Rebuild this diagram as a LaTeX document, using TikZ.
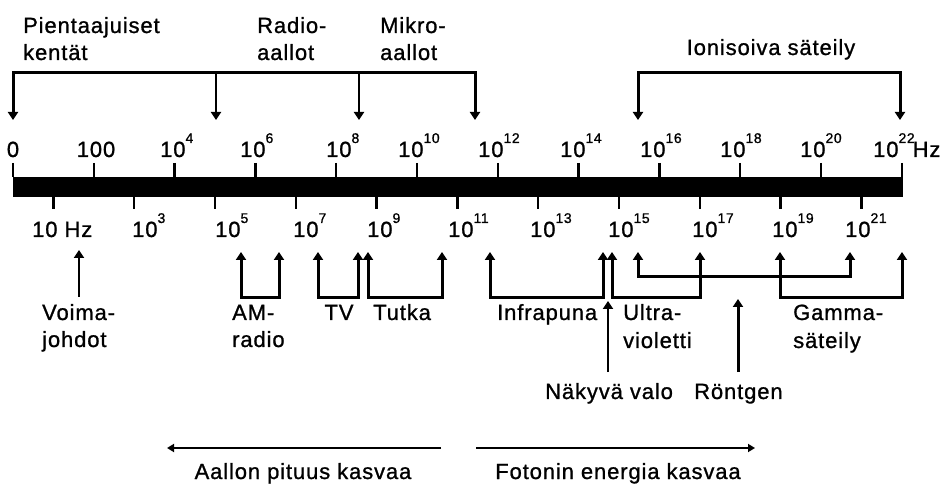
\documentclass[tikz,border=0pt]{standalone}
\usepackage{fontspec}
\setmainfont{Liberation Sans}[LetterSpace=4,FakeBold=1]
\usetikzlibrary{arrows.meta}

% power of ten with a raised exponent
\newcommand\tenp[1]{10\raisebox{14pt}{\fontsize{14}{14}\selectfont #1}}

\begin{document}
\begin{tikzpicture}[x=1pt,y=-1pt,
  font=\fontsize{22}{27}\selectfont,
  lbl/.style={anchor=base west,inner sep=0pt},
  clbl/.style={anchor=base,inner sep=0pt},
  tickline/.style={line width=2.5pt},
  tip/.tip={Triangle[width=10pt,length=8pt]},
  brk/.style={line width=3pt,miter limit=10,tip-tip},
  arr/.style={line width=2.5pt,-tip},
  dirarr/.style={line width=2.5pt,-{Triangle[width=8pt,length=7pt]}}]

\useasboundingbox (0,0) rectangle (948,486);

% frequency bar
\fill (13,177) rectangle (903,197);

% ticks above (even exponents) and below (odd exponents)
\foreach \k in {0,...,11}{
  \draw[tickline] ({13+80.8*\k},163) -- ({13+80.8*\k},177);
}
\foreach \k in {0,...,10}{
  \draw[tickline] ({53.4+80.8*\k},197) -- ({53.4+80.8*\k},209);
}

% upper scale labels
\node[clbl] (u0)  at (13,157)  {0};
\node[clbl] (u2)  at (96,157)  {100};
\node[lbl]  (u4)  at (160,157) {\tenp{4}};
\node[lbl]  (u6)  at (240,157) {\tenp{6}};
\node[lbl]  (u8)  at (326,157) {\tenp{8}};
\node[lbl]  (u10) at (398,157) {\tenp{10}};
\node[lbl]  (u12) at (478,157) {\tenp{12}};
\node[lbl]  (u14) at (560,157) {\tenp{14}};
\node[lbl]  (u16) at (640,157) {\tenp{16}};
\node[lbl]  (u18) at (720,157) {\tenp{18}};
\node[lbl]  (u20) at (800,157) {\tenp{20}};
\node[lbl]  (u22) at (873,157) {\tenp{22}\kern-2pt Hz};

% lower scale labels
\node[lbl] (l1)  at (32,237)  {10 Hz};
\node[lbl] (l3)  at (132,237) {\tenp{3}};
\node[lbl] (l5)  at (215,237) {\tenp{5}};
\node[lbl] (l7)  at (293,237) {\tenp{7}};
\node[lbl] (l9)  at (367,237) {\tenp{9}};
\node[lbl] (l11) at (448,237) {\tenp{11}};
\node[lbl] (l13) at (530,237) {\tenp{13}};
\node[lbl] (l15) at (608,237) {\tenp{15}};
\node[lbl] (l17) at (692,237) {\tenp{17}};
\node[lbl] (l19) at (772,237) {\tenp{19}};
\node[lbl] (l21) at (845,237) {\tenp{21}};

% upper groups
\node[lbl] (pk1) at (23,33)  {Pientaajuiset};
\node[lbl] (pk2) at (23,60)  {kentät};
\node[lbl] (ra1) at (257,33) {Radio-};
\node[lbl] (ra2) at (257,60) {aallot};
\node[lbl] (ma1) at (380,33) {Mikro-};
\node[lbl] (ma2) at (380,60) {aallot};
\node[clbl] (ion) at (771,55) {Ionisoiva säteily};

\coordinate (a0) at (13,120);
\coordinate (a1) at (216,120);
\coordinate (a2) at (359,120);
\coordinate (a3) at (475,120);
\draw[brk] (a0) |- (475,73) -- (a3);
\draw[arr] (216,73) -- (a1);
\draw[arr] (359,73) -- (a2);

\coordinate (i0) at (638,120);
\coordinate (i1) at (900,120);
\draw[brk] (i0) |- (900,73) -- (i1);

% lower groups
\coordinate (vj) at (79,250);
\draw[arr] (79,297) -- (vj);
\node[lbl] (vo1) at (42,320) {Voima-};
\node[lbl] (vo2) at (42,347) {johdot};

\draw[brk] (241,252) |- (279,298) -- (279,252);
\node[lbl] (am1) at (232,320) {AM-};
\node[lbl] (am2) at (232,347) {radio};

\draw[brk] (318,252) |- (358,298) -- (358,252);
\node[clbl] (tv) at (339,320) {TV};

\draw[brk] (368,252) |- (442,298) -- (442,252);
\node[lbl] (tu) at (373,320) {Tutka};

\draw[brk] (490,252) |- (603,298) -- (603,252);
\node[lbl] (ir) at (497,320) {Infrapuna};

\draw[brk] (612,252) |- (700,298) -- (700,252);
\node[lbl] (uv1) at (623,320) {Ultra-};
\node[lbl] (uv2) at (623,348) {violetti};

\draw[brk] (638,252) |- (850,277) -- (850,252);

\draw[brk] (780,252) |- (902,298) -- (902,252);
\node[lbl] (ga1) at (793,320) {Gamma-};
\node[lbl] (ga2) at (793,348) {säteily};

\node[lbl] (nv) at (545,399) {Näkyvä valo};
\coordinate (nvtop) at (608,301);
\draw[arr] (608,372) -- (nvtop);

\node[lbl] (ro) at (694,399) {Röntgen};
\coordinate (rotop) at (738,299);
\draw[arr,line width=3pt] (738,372) -- (rotop);

% direction arrows
\coordinate (wl0) at (441,448);
\coordinate (wl1) at (167,448);
\coordinate (en0) at (476,448);
\coordinate (en1) at (755,448);
\draw[dirarr] (wl0) -- (wl1);
\draw[dirarr] (en0) -- (en1);
\node[clbl] (wl) at (303,479) {Aallon pituus kasvaa};
\node[clbl] (en) at (618,479) {Fotonin energia kasvaa};

\end{tikzpicture}
\end{document}
